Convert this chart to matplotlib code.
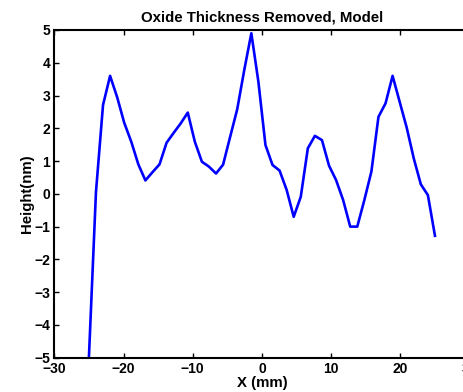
import numpy as np
import matplotlib
matplotlib.use('Agg')
import matplotlib.pyplot as plt

# position along the sample, 50 samples from -25 to 25 mm
x_mm = np.linspace(-25, 25, 50)

# height
height_nm = [-5.0, 0.05, 2.71, 3.60, 2.95, 2.17, 1.59, 0.90, 0.41, 0.66,
             0.90, 1.56, 1.86, 2.15, 2.48, 1.59, 0.98, 0.83, 0.62, 0.89,
             1.74, 2.58, 3.78, 4.90, 3.42, 1.49, 0.88, 0.71, 0.12, -0.70,
             -0.09, 1.39, 1.77, 1.64, 0.86, 0.42, -0.19, -1.00, -1.00, -0.19,
             0.68, 2.35, 2.76, 3.60, 2.81, 2.02, 1.08, 0.29, -0.04, -1.28]

x_ticks = [-30, -20, -10, 0, 10, 20, 30]
y_ticks = [-5, -4, -3, -2, -1, 0, 1, 2, 3, 4, 5]

plt.rcParams['font.family'] = ['Liberation Sans', 'DejaVu Sans']
plt.rcParams['font.weight'] = 'bold'

fig = plt.figure(figsize=(4.64, 3.92), dpi=100)
ax = fig.add_axes([0.117, 0.0875, 0.895, 0.836])

ax.plot(x_mm, height_nm, color='#0000ff', linewidth=1.9)

ax.set_xlim(-30, 30)
ax.set_ylim(-5, 5)
ax.set_xticks(x_ticks)
ax.set_yticks(y_ticks)
ax.tick_params(direction='in', length=3.5, width=1, top=True, right=True,
               labelsize=10, pad=3)
for lbl in ax.get_xticklabels() + ax.get_yticklabels():
    lbl.set_fontweight('bold')
for s in ax.spines.values():
    s.set_linewidth(1.5)

ax.set_title('Oxide Thickness Removed, Model', fontsize=10.8, fontweight='bold', pad=6)
ax.set_xlabel('X (mm)', fontsize=10.8, fontweight='bold', labelpad=0)
ax.set_ylabel('Height(nm)', fontsize=10.8, fontweight='bold', labelpad=0)

fig.savefig('out.png', dpi=100)
